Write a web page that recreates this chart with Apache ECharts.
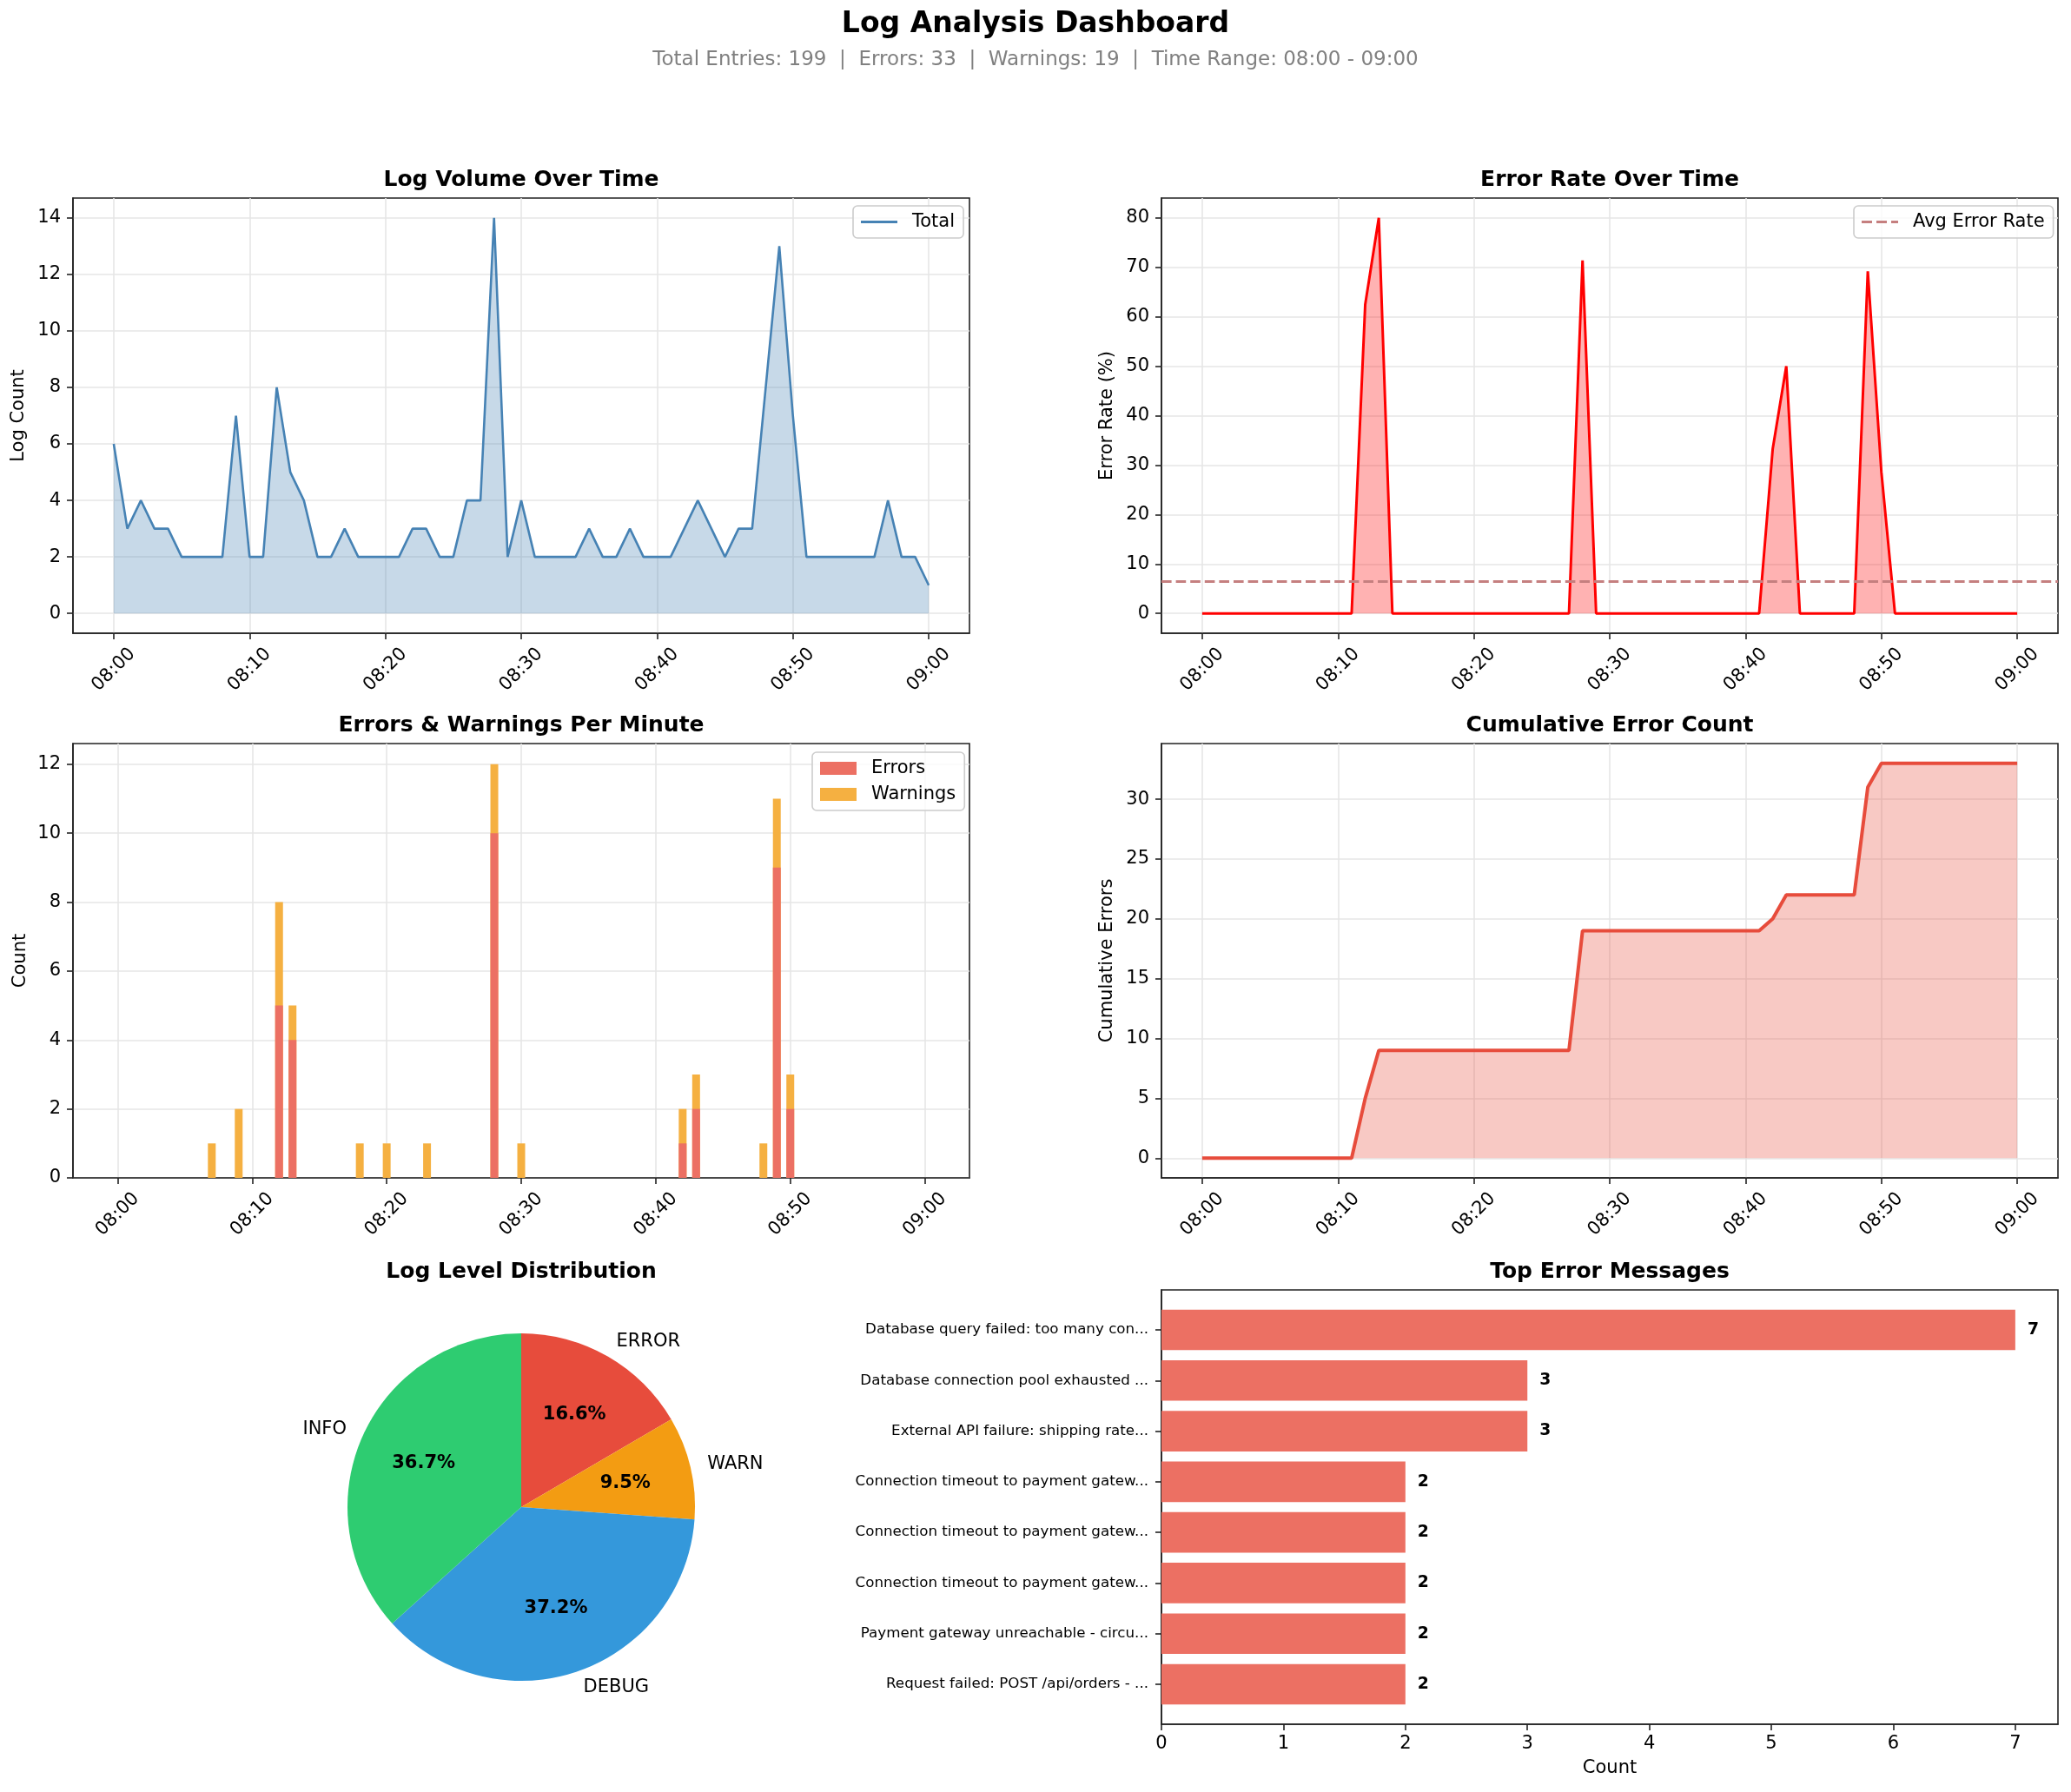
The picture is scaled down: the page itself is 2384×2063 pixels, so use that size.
<!DOCTYPE html>
<html>
<head>
<meta charset="utf-8">
<title>Log Analysis Dashboard</title>
<script src="https://cdn.jsdelivr.net/npm/echarts@6/dist/echarts.min.js"></script>
<style>
  html, body { margin: 0; padding: 0; background: #fff; }
  #chart { width: 2384px; height: 2063px; }
</style>
</head>
<body>
<div id="chart"></div>
<script>
// ---- values ----
const timeTickMinutes = [0, 10, 20, 30, 40, 50, 60];
const timeTickLabels = ["08:00", "08:10", "08:20", "08:30", "08:40", "08:50", "09:00"];

// one entry per minute, 08:00 .. 09:00
const totalPerMinute = [
  6, 3, 4, 3, 3, 2, 2, 2, 2, 7,
  2, 2, 8, 5, 4, 2, 2, 3, 2, 2,
  2, 2, 3, 3, 2, 2, 4, 4, 14, 2,
  4, 2, 2, 2, 2, 3, 2, 2, 3, 2,
  2, 2, 3, 4, 3, 2, 3, 3, 8, 13,
  7, 2, 2, 2, 2, 2, 2, 4, 2, 2, 1
];
const errorsPerMinute = [
  0, 0, 0, 0, 0, 0, 0, 0, 0, 0,
  0, 0, 5, 4, 0, 0, 0, 0, 0, 0,
  0, 0, 0, 0, 0, 0, 0, 0, 10, 0,
  0, 0, 0, 0, 0, 0, 0, 0, 0, 0,
  0, 0, 1, 2, 0, 0, 0, 0, 0, 9,
  2, 0, 0, 0, 0, 0, 0, 0, 0, 0, 0
];
const warningsPerMinute = [
  0, 0, 0, 0, 0, 0, 0, 1, 0, 2,
  0, 0, 3, 1, 0, 0, 0, 0, 1, 0,
  1, 0, 0, 1, 0, 0, 0, 0, 2, 0,
  1, 0, 0, 0, 0, 0, 0, 0, 0, 0,
  0, 0, 1, 1, 0, 0, 0, 0, 1, 2,
  1, 0, 0, 0, 0, 0, 0, 0, 0, 0, 0
];
const errorRatePct = [
  0, 0, 0, 0, 0, 0, 0, 0, 0, 0,
  0, 0, 62.5, 80, 0, 0, 0, 0, 0, 0,
  0, 0, 0, 0, 0, 0, 0, 0, 71.4, 0,
  0, 0, 0, 0, 0, 0, 0, 0, 0, 0,
  0, 0, 33.3, 50, 0, 0, 0, 0, 0, 69.2,
  28.6, 0, 0, 0, 0, 0, 0, 0, 0, 0, 0
];
const avgErrorRate = 6.48;
const cumulativeErrors = [
  0, 0, 0, 0, 0, 0, 0, 0, 0, 0,
  0, 0, 5, 9, 9, 9, 9, 9, 9, 9,
  9, 9, 9, 9, 9, 9, 9, 9, 19, 19,
  19, 19, 19, 19, 19, 19, 19, 19, 19, 19,
  19, 19, 20, 22, 22, 22, 22, 22, 22, 31,
  33, 33, 33, 33, 33, 33, 33, 33, 33, 33, 33
];

const levelNames = ["ERROR", "WARN", "DEBUG", "INFO"];
const levelCounts = [33, 19, 74, 73];
const levelColors = ["#e74c3c", "#f39c12", "#3498db", "#2ecc71"];

const errorMessages = [
  "Database query failed: too many con...",
  "Database connection pool exhausted ...",
  "External API failure: shipping rate...",
  "Connection timeout to payment gatew...",
  "Connection timeout to payment gatew...",
  "Connection timeout to payment gatew...",
  "Payment gateway unreachable - circu...",
  "Request failed: POST /api/orders - ..."
];
const errorCounts = [7, 3, 3, 2, 2, 2, 2, 2];

const volumeTicks = [0, 2, 4, 6, 8, 10, 12, 14];
const rateTicks = [0, 10, 20, 30, 40, 50, 60, 70, 80];
const perMinuteTicks = [0, 2, 4, 6, 8, 10, 12];
const cumulativeTicks = [0, 5, 10, 15, 20, 25, 30];
const countTicks = [0, 1, 2, 3, 4, 5, 6, 7];
const messageTicks = [0, 1, 2, 3, 4, 5, 6, 7];

// ---- styling helpers ----
const FONT = "DejaVu Sans";
const SPINE = "#222";
const GRIDLINE = "#e6e6e6";
const ERR_BAR = "#ec7063";   // #e74c3c at 0.8 on white
const WARN_BAR = "#f5b041";  // #f39c12 at 0.8 on white
const SOLID_ICON = "path://M0,0H42V3H0Z";
const DASH_ICON = "path://M0,0H12V3H0Z M17,0H29V3H17Z M34,0H42V3H34Z";

const sum = (arr) => arr.reduce((a, b) => a + b, 0);
const pairs = (arr) => arr.map((v, i) => [i, v]);

const timeLabel = (v) => {
  const i = timeTickMinutes.indexOf(Math.round(v));
  return i >= 0 ? timeTickLabels[i] : "";
};

const gridBox = (left, top, width, height) => ({
  left, top, width, height,
  show: true,
  borderColor: SPINE,
  borderWidth: 1.6,
  backgroundColor: "transparent",
  containLabel: false,
  outerBoundsMode: "none"
});

const axisLineStyle = { show: true, onZero: false, lineStyle: { color: SPINE, width: 1.6 } };

const timeXAxis = (gridIndex, min, max) => ({
  type: "value",
  gridIndex, min, max,
  axisLine: axisLineStyle,
  axisTick: { show: true, length: 7, customValues: timeTickMinutes, lineStyle: { color: SPINE, width: 1.6 } },
  axisLabel: {
    customValues: timeTickMinutes,
    formatter: timeLabel,
    rotate: 45, align: "center", verticalAlign: "middle", margin: 42,
    fontSize: 21, color: "#000", fontFamily: FONT
  },
  splitLine: { show: true, lineStyle: { color: GRIDLINE, width: 1.6 } }
});

const countYAxis = (gridIndex, min, max, ticks, name, nameGap) => ({
  type: "value",
  gridIndex, min, max,
  name, nameLocation: "middle", nameGap,
  nameTextStyle: { fontSize: 21, color: "#000", fontFamily: FONT },
  axisLine: axisLineStyle,
  axisTick: { show: true, length: 7, customValues: ticks, lineStyle: { color: SPINE, width: 1.6 } },
  axisLabel: { customValues: ticks, margin: 14, fontSize: 21, color: "#000", fontFamily: FONT },
  splitLine: { show: true, lineStyle: { color: GRIDLINE, width: 1.6 } }
});

const subTitle = (text, cx, top) => ({
  text, left: cx, top, textAlign: "center", padding: 0,
  textStyle: { fontSize: 25, fontWeight: "bold", color: "#000", fontFamily: FONT }
});

const legendBox = (left, top, items, extra) => Object.assign({
  data: items,
  left, top,
  orient: "vertical",
  itemWidth: 42, itemHeight: 15, itemGap: 9,
  padding: [8, 10, 8, 9],
  backgroundColor: "rgba(255,255,255,0.8)",
  borderColor: "#cccccc", borderWidth: 1.6, borderRadius: 5,
  selectedMode: false,
  textStyle: { fontSize: 21, color: "#000", fontFamily: FONT, padding: [0, 0, 0, 12] }
}, extra || {});

const chart = echarts.init(document.getElementById("chart"), null, { renderer: "canvas" });

const totalEntries = sum(totalPerMinute);
const levelTotal = sum(levelCounts);
// top edge of each stacked bar (errors below, warnings on top)
const stackTopPerMinute = warningsPerMinute.map((w, i) => w + errorsPerMinute[i]);

const option = {
  animation: false,
  backgroundColor: "#fff",
  textStyle: { fontFamily: FONT },
  title: [
    {
      text: "Log Analysis Dashboard", left: 1192, top: 12, textAlign: "center", padding: 0,
      textStyle: { fontSize: 33, fontWeight: "bold", color: "#000", fontFamily: FONT }
    },
    {
      text: "Total Entries: " + totalEntries + "  |  Errors: " + sum(errorsPerMinute) +
        "  |  Warnings: " + sum(warningsPerMinute) + "  |  Time Range: " +
        timeTickLabels[0] + " - " + timeTickLabels[timeTickLabels.length - 1],
      left: 1192, top: 58, textAlign: "center", padding: 0,
      textStyle: { fontSize: 23, fontWeight: "normal", color: "#808080", fontFamily: FONT }
    },
    subTitle("Log Volume Over Time", 600, 195),
    subTitle("Error Rate Over Time", 1853, 195),
    subTitle("Errors & Warnings Per Minute", 600, 823),
    subTitle("Cumulative Error Count", 1853, 823),
    subTitle("Log Level Distribution", 600, 1452),
    subTitle("Top Error Messages", 1853, 1452)
  ],
  legend: [
    legendBox(982, 237, [{ name: "Total", icon: SOLID_ICON }], { itemHeight: 3 }),
    legendBox(2134, 237, [{ name: "Avg Error Rate", icon: DASH_ICON }], { itemHeight: 3 }),
    legendBox(935, 866, [
      { name: "Errors", icon: "rect" },
      { name: "Warnings", icon: "rect" }
    ])
  ],
  grid: [
    gridBox(84, 228, 1032, 501),
    gridBox(1337, 228, 1032, 501),
    gridBox(84, 856, 1032, 500),
    gridBox(1337, 856, 1032, 500),
    gridBox(1337, 1485, 1032, 500)
  ],
  xAxis: [
    timeXAxis(0, -3, 63),
    timeXAxis(1, -3, 63),
    timeXAxis(2, -3.32, 63.32),
    timeXAxis(3, -3, 63),
    {
      type: "value", gridIndex: 4, min: 0, max: 7.35,
      name: "Count", nameLocation: "middle", nameGap: 40,
      nameTextStyle: { fontSize: 21, color: "#000", fontFamily: FONT },
      axisLine: axisLineStyle,
      axisTick: { show: true, length: 7, customValues: countTicks, lineStyle: { color: SPINE, width: 1.6 } },
      axisLabel: { customValues: countTicks, margin: 12, fontSize: 21, color: "#000", fontFamily: FONT },
      splitLine: { show: false }
    }
  ],
  yAxis: [
    countYAxis(0, -0.7, 14.7, volumeTicks, "Log Count", 52),
    countYAxis(1, -4, 84, rateTicks, "Error Rate (%)", 52),
    countYAxis(2, 0, 12.6, perMinuteTicks, "Count", 50),
    countYAxis(3, -1.65, 34.65, cumulativeTicks, "Cumulative Errors", 52),
    {
      type: "value", gridIndex: 4, min: -0.79, max: 7.79, inverse: true,
      axisLine: axisLineStyle,
      axisTick: { show: true, length: 7, customValues: messageTicks, lineStyle: { color: SPINE, width: 1.6 } },
      axisLabel: {
        customValues: messageTicks,
        formatter: (v) => errorMessages[Math.round(v)] || "",
        margin: 15, fontSize: 16.7, color: "#000", fontFamily: FONT
      },
      splitLine: { show: false }
    }
  ],
  series: [
    {
      name: "Total", type: "line", xAxisIndex: 0, yAxisIndex: 0,
      data: pairs(totalPerMinute),
      symbol: "none",
      lineStyle: { color: "#4682b4", width: 2.6 },
      itemStyle: { color: "#4682b4" },
      areaStyle: { color: "rgba(70,130,180,0.3)", opacity: 1 }
    },
    {
      name: "Error Rate", type: "line", xAxisIndex: 1, yAxisIndex: 1,
      data: pairs(errorRatePct),
      symbol: "none",
      lineStyle: { color: "#ff0000", width: 3 },
      itemStyle: { color: "#ff0000" },
      areaStyle: { color: "rgba(255,0,0,0.3)", opacity: 1 }
    },
    {
      name: "Avg Error Rate", type: "line", xAxisIndex: 1, yAxisIndex: 1,
      data: [],
      symbol: "none",
      lineStyle: { color: "#c57f7f", width: 3, type: [11.6, 5] },
      itemStyle: { color: "#c57f7f" },
      markLine: {
        silent: true, symbol: "none",
        label: { show: false },
        lineStyle: { color: "#c57f7f", width: 3, type: [11.6, 5] },
        data: [{ yAxis: avgErrorRate }]
      }
    },
    {
      name: "Warnings", type: "bar", xAxisIndex: 2, yAxisIndex: 2,
      barWidth: 9, barGap: "-100%",
      data: pairs(stackTopPerMinute),
      itemStyle: { color: WARN_BAR }
    },
    {
      name: "Errors", type: "bar", xAxisIndex: 2, yAxisIndex: 2,
      barWidth: 9, barGap: "-100%",
      data: pairs(errorsPerMinute),
      itemStyle: { color: ERR_BAR }
    },
    {
      name: "Cumulative", type: "line", xAxisIndex: 3, yAxisIndex: 3,
      data: pairs(cumulativeErrors),
      symbol: "none",
      lineStyle: { color: "#e74c3c", width: 4 },
      itemStyle: { color: "#e74c3c" },
      areaStyle: { color: "rgba(231,76,60,0.3)", opacity: 1 }
    },
    {
      name: "Levels", type: "pie",
      center: [600, 1735], radius: 200,
      startAngle: 90, clockwise: true,
      avoidLabelOverlap: false,
      silent: true,
      data: levelNames.map((n, i) => ({ name: n, value: levelCounts[i], itemStyle: { color: levelColors[i] } })),
      itemStyle: { borderWidth: 0 },
      label: {
        show: true, position: "outside", formatter: "{b}",
        distanceToLabelLine: 0,
        fontSize: 21, color: "#000", fontFamily: FONT
      },
      labelLine: { show: false, length: 20, length2: 0 },
      emphasis: { disabled: true }
    },
    {
      name: "LevelPct", type: "pie",
      center: [600, 1735], radius: [40, 200],
      startAngle: 90, clockwise: true,
      avoidLabelOverlap: false,
      silent: true,
      data: levelNames.map((n, i) => ({ name: n, value: levelCounts[i] })),
      itemStyle: { color: "rgba(0,0,0,0)", borderWidth: 0 },
      label: {
        show: true, position: "inside",
        formatter: (p) => (p.value / levelTotal * 100).toFixed(1) + "%",
        fontSize: 21, fontWeight: "bold", color: "#000", fontFamily: FONT
      },
      labelLine: { show: false },
      emphasis: { disabled: true }
    },
    {
      name: "Top Errors", type: "custom", xAxisIndex: 4, yAxisIndex: 4,
      encode: { x: 0, y: 1 },
      data: errorCounts.map((c, i) => [c, i]),
      renderItem: (params, api) => {
        const v = api.value(0);
        const idx = api.value(1);
        const start = api.coord([0, idx]);
        const end = api.coord([v, idx]);
        const thick = Math.abs(api.size([0, 0.8])[1]);
        const labelPos = api.coord([v + 0.1, idx]);
        return {
          type: "group",
          children: [
            {
              type: "rect",
              shape: { x: start[0], y: start[1] - thick / 2, width: end[0] - start[0], height: thick },
              style: { fill: ERR_BAR }
            },
            {
              type: "text",
              x: labelPos[0], y: labelPos[1],
              style: {
                text: String(v), align: "left", verticalAlign: "middle",
                font: "bold 18.75px 'DejaVu Sans'", fill: "#000"
              }
            }
          ]
        };
      }
    }
  ]
};

chart.setOption(option);
window.addEventListener("resize", () => chart.resize());
</script>
</body>
</html>
